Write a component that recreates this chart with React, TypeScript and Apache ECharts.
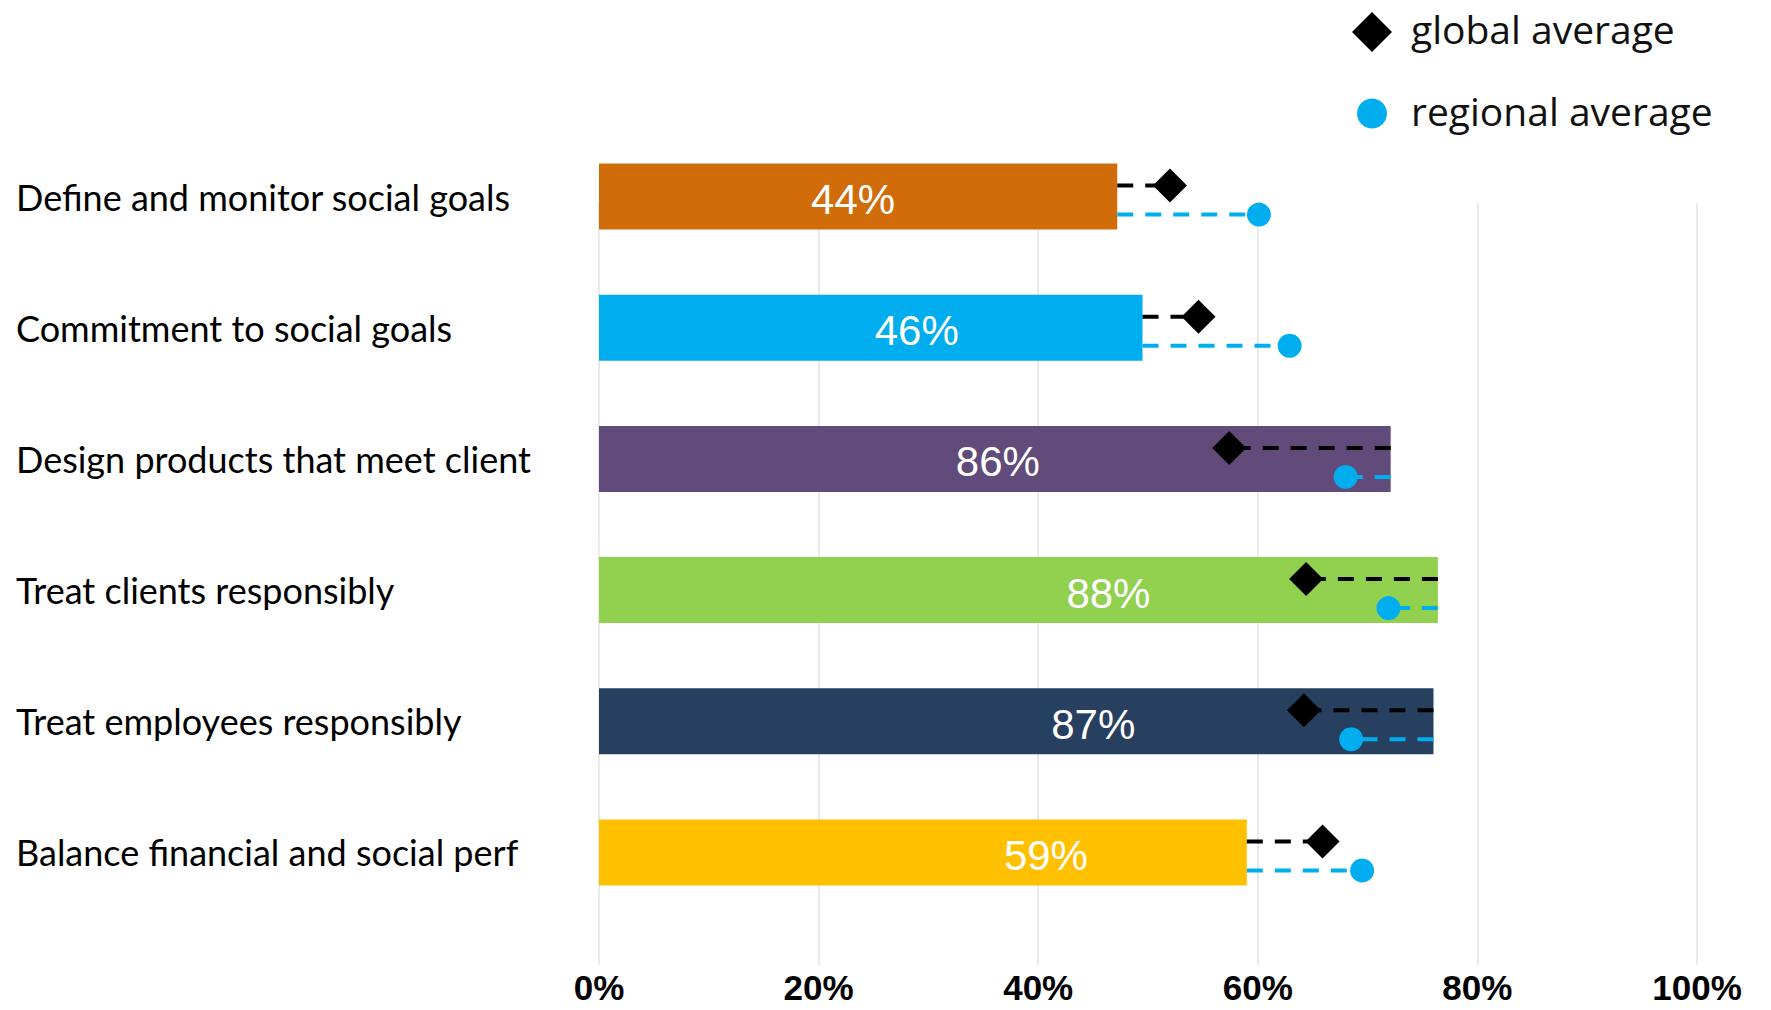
import React, { useEffect, useRef } from "react";
import * as echarts from "echarts";

const categories = [
  "Define and monitor social goals",
  "Commitment to social goals",
  "Design products that meet client",
  "Treat clients responsibly",
  "Treat employees responsibly",
  "Balance financial and social perf",
];
// bar lengths as drawn against the axis
const barValues = [47.2, 49.5, 72.1, 76.4, 76.0, 59.0];
// values printed inside the bars
const labelValues = [44, 46, 86, 88, 87, 59];
const globalAvg = [52.0, 54.6, 57.4, 64.4, 64.2, 65.9];
const regionalAvg = [60.1, 62.9, 68.0, 71.9, 68.5, 69.5];
const legendNames = ["global average", "regional average"];
const xMin = 0;
const xMax = 100;
const xInterval = 20;

// styles
const barColors = ["#D16C0A", "#00AEEF", "#614B7B", "#92D050", "#27405F", "#FFC000"];
const labelOffsets = [-5, 46, 3, 90, 77, 123];
const FONT = "Lato, 'Noto Sans', sans-serif";
const BLUE = "#00AEEF";

function markerSeries(name: string, values: number[], color: string, shape: "diamond" | "circle", dy: number) {
  return {
    name,
    type: "custom",
    xAxisIndex: 0,
    yAxisIndex: 0,
    clip: false,
    z: 5,
    itemStyle: { color },
    encode: { x: 0, y: 1 },
    data: values.map((v, i) => [v, i, barValues[i]]),
    renderItem: (params: any, api: any) => {
      const m = api.coord([api.value(0), api.value(1)]);
      const b = api.coord([api.value(2), api.value(1)]);
      const y = m[1] + dy;
      const x = m[0];
      const children: any[] = [
        {
          type: "line",
          shape: { x1: b[0], y1: y, x2: x, y2: y },
          style: { stroke: color, lineWidth: 4, lineDash: [16, 12], fill: null },
        },
      ];
      if (shape === "diamond") {
        const s = 17;
        children.push({
          type: "polygon",
          shape: { points: [[x, y - s], [x + s, y], [x, y + s], [x - s, y]] },
          style: { fill: color },
        });
      } else {
        children.push({ type: "circle", shape: { cx: x, cy: y, r: 12 }, style: { fill: color } });
      }
      return { type: "group", children };
    },
  };
}

export default function App() {
  const ref = useRef<HTMLDivElement>(null);
  useEffect(() => {
    if (!ref.current) return;
    const chart = echarts.init(ref.current, null, { renderer: "svg" });
    const legendFont = "'Open Sans', Lato, sans-serif";
    const option: any = {
      animation: false,
      backgroundColor: "#ffffff",
      grid: [
        { left: 599, right: 74, top: 131, bottom: 92 },
        { left: 599, right: 74, top: 203, bottom: 45 },
      ],
      xAxis: [
        { type: "value", gridIndex: 0, min: xMin, max: xMax, interval: xInterval, show: false, splitLine: { show: false } },
        {
          type: "value",
          gridIndex: 1,
          min: xMin,
          max: xMax,
          interval: xInterval,
          axisLine: { show: false },
          axisTick: { show: false },
          splitLine: { show: true, lineStyle: { color: "#e2e2e2", width: 1.5 } },
          axisLabel: {
            formatter: "{value}%",
            fontSize: 35,
            fontWeight: "bold",
            fontFamily: "'Liberation Sans', Arial, sans-serif",
            color: "#000",
            margin: 5,
          },
        },
      ],
      yAxis: [
        {
          type: "category",
          gridIndex: 0,
          inverse: true,
          data: categories,
          axisLine: { show: false },
          axisTick: { show: false },
          splitLine: { show: false },
          axisLabel: {
            align: "left",
            margin: 583,
            fontSize: 36,
            fontFamily: FONT,
            color: "#000",
          },
        },
        { type: "value", gridIndex: 1, show: false, splitLine: { show: false } },
      ],
      graphic: [
        {
          type: "polygon",
          shape: { points: [[1372, 12], [1392, 32], [1372, 52], [1352, 32]] },
          style: { fill: "#000" },
        },
        {
          type: "text",
          x: 1411,
          y: 28,
          style: { text: legendNames[0], font: `39px ${legendFont}`, fill: "#111", verticalAlign: "middle", align: "left" },
        },
        {
          type: "circle",
          shape: { cx: 1372, cy: 113.5, r: 15 },
          style: { fill: BLUE },
        },
        {
          type: "text",
          x: 1411,
          y: 110,
          style: { text: legendNames[1], font: `39px ${legendFont}`, fill: "#111", verticalAlign: "middle", align: "left" },
        },
      ],
      series: [
        {
          name: "bars",
          type: "bar",
          xAxisIndex: 0,
          yAxisIndex: 0,
          barWidth: 66,
          z: 2,
          data: barValues.map((v, i) => ({
            value: v,
            itemStyle: { color: barColors[i] },
            label: { offset: [labelOffsets[i], 3] },
          })),
          label: {
            show: true,
            position: "inside",
            color: "#fff",
            fontSize: 42,
            fontFamily: "'Liberation Sans', Arial, sans-serif",
            formatter: (p: any) => labelValues[p.dataIndex] + "%",
          },
        },
        markerSeries(legendNames[0], globalAvg, "#000000", "diamond", -11),
        markerSeries(legendNames[1], regionalAvg, BLUE, "circle", 18),
      ],
    };
    chart.setOption(option);
    return () => chart.dispose();
  }, []);
  return (
    <div
      ref={ref}
      style={{ position: "absolute", left: 0, top: 0, width: 1771, height: 1010 }}
    />
  );
}
